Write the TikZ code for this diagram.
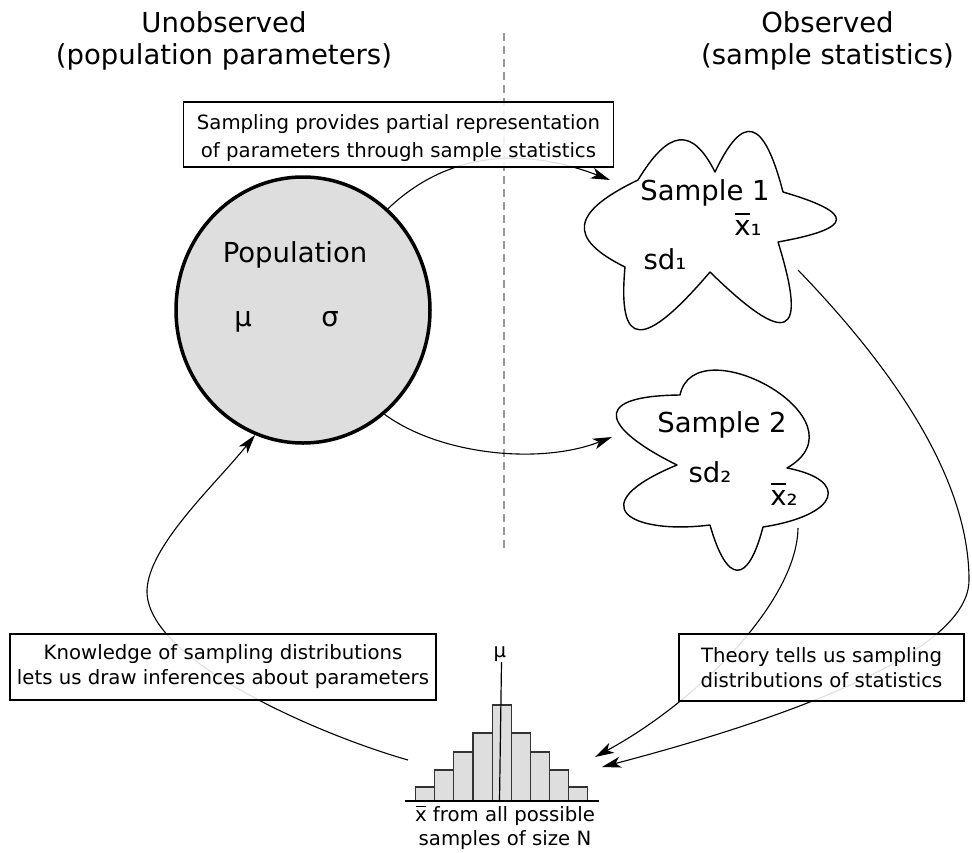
\documentclass[tikz,border=0pt]{standalone}
\usepackage{fontspec}
\setmainfont{DejaVu Sans}
\usetikzlibrary{calc,arrows.meta,shapes.geometric}
\newcommand\xbar{\leavevmode\ooalign{x\cr\hidewidth\rule[0.74em]{0.52em}{0.065em}\hidewidth\cr}}
\begin{document}
\begin{tikzpicture}[x=1pt,y=-1pt,
  big/.style={font=\fontsize{27.5}{32}\selectfont},
  small/.style={font=\fontsize{19.7}{25}\selectfont},
  textbox/.style={draw=black, line width=1.3pt, fill=white, fill opacity=0.88, text opacity=1,
    align=center, small, inner sep=0pt},
  conn/.style={line width=1.1pt, -{Stealth[length=19pt,width=11pt,inset=5pt]}},
  samplecloud/.style={draw=black, line width=1.4pt, line join=round},
  histbar/.style={draw=black!80, line width=1.2pt, fill=black!13},
  lobe/.style n args={3}{insert path={.. controls ($1.333*(#2)-0.017*(#1)-0.317*(#3)$) and ($1.333*(#2)-0.317*(#1)-0.017*(#3)$) .. (#3)}},
]
\useasboundingbox (0,0) rectangle (972,852);
\fill[white] (0,0) rectangle (972,852);

% titles
\node[big, align=center] (ttl1) at (224,41.4) {Unobserved\\(population parameters)};
\node[big, align=center] (ttl2) at (827.5,41.4) {Observed\\(sample statistics)};

% divider
\draw[black!40, line width=1.2pt, dash pattern=on 8pt off 5pt] (504,33) -- (504,550);

% population
\node[ellipse, draw=black, line width=3.5pt, fill=black!13, minimum width=254pt, minimum height=266pt, inner sep=0pt] (pop) at (303,310) {};
\node[big, anchor=base] (poplabel) at (295,262) {Population};
\node[big, anchor=base] (mu) at (243,326) {μ};
\node[big, anchor=base] (sigma) at (330,326) {σ};

% sample 1 cloud
\coordinate (s1a) at (638,180); \coordinate (s1p1) at (680,140);
\coordinate (s1b) at (715,172); \coordinate (s1p2) at (753,132);
\coordinate (s1c) at (783,192); \coordinate (s1p3) at (837,220);
\coordinate (s1d) at (778,242); \coordinate (s1p4) at (785,322);
\coordinate (s1e) at (710,272); \coordinate (s1p5) at (640,330);
\coordinate (s1f) at (625,267); \coordinate (s1p6) at (585,225);
\draw[samplecloud] (s1a) [lobe={s1a}{s1p1}{s1b}] [lobe={s1b}{s1p2}{s1c}] [lobe={s1c}{s1p3}{s1d}]
  [lobe={s1d}{s1p4}{s1e}] [lobe={s1e}{s1p5}{s1f}] [lobe={s1f}{s1p6}{s1a}] -- cycle;
\node[big, anchor=base] (s1label) at (705,200) {Sample 1};
\node[big, anchor=base] (s1mean) at (748,235) {\xbar₁};
\node[big, anchor=base] (s1sd) at (665,269) {sd₁};

% sample 2 cloud
\coordinate (s2a) at (680,395); \coordinate (s2b) at (787,468);
\coordinate (s2c) at (763,527); \coordinate (s2d) at (710,525);
\coordinate (s2e) at (677,465);
\draw[samplecloud] (s2a) .. controls (695,325) and (870,420) .. (s2b)
  .. controls (850,480) and (840,515) .. (s2c)
  .. controls (748,585) and (727,585) .. (s2d)
  .. controls (630,535) and (580,505) .. (s2e)
  .. controls (610,432) and (582,396) .. (s2a) -- cycle;
\node[big, anchor=base] (s2label) at (722,432) {Sample 2};
\node[big, anchor=base] (s2sd) at (710,482) {sd₂};
\node[big, anchor=base] (s2mean) at (784,505) {\xbar₂};

% histogram
\foreach \i/\h in {0/787,1/770,2/752,3/733,4/705,5/733,6/752,7/770,8/787}
  \draw[histbar] ({415.5+19.15*\i},801) rectangle ({415.5+19.15*(\i+1)},\h);
\draw[line width=1.5pt] (405,801) -- (599,801);
\draw[line width=1.2pt] (501.5,662) -- (499.5,801);
\node[small, anchor=base] (histmu) at (500,657) {μ};
\node[small, align=center, font=\fontsize{19.7}{24}\selectfont] (histlabel) at (505,828.5) {\xbar{} from all possible\\samples of size N};

% connector end points
\coordinate (s1in) at (610,180);
\coordinate (s2in) at (612,437);
\coordinate (s1out) at (798,270);
\coordinate (s1mid) at (969,580);
\coordinate (s2out) at (798,528);
\coordinate (hin1) at (602,767);
\coordinate (hin2) at (595,757);
\coordinate (hout) at (408,760);
\coordinate (kmid) at (147,590);

% connectors
\draw[conn] (pop.50) .. controls (460,140) and (545,155) .. (s1in);
\draw[conn] (pop.-52) .. controls (440,455) and (540,465) .. (s2in);
\draw[conn] (s1out) .. controls (880,355) and (969,470) .. (s1mid) .. controls (969,650) and (800,715) .. (hin1);
\draw[conn] (s2out) .. controls (797,600) and (700,700) .. (hin2);
\draw[conn] (hout) .. controls (320,735) and (145,660) .. (kmid) .. controls (149,545) and (215,485) .. (pop.-111);

% text boxes
\node[textbox, minimum width=430pt, minimum height=65pt] (topbox) at (398.5,134.5) {};
\node[small, align=center, font=\fontsize{19.7}{28}\selectfont] (toptext) at (398.5,138)
  {Sampling provides partial representation\\of parameters through sample statistics};
\node[textbox, minimum width=426pt, minimum height=66pt] (leftbox) at (223,667)
  {Knowledge of sampling distributions\\lets us draw inferences about parameters};
\node[textbox, minimum width=285pt, minimum height=67pt] (rightbox) at (821.5,667.5)
  {Theory tells us sampling\\distributions of statistics};
\end{tikzpicture}
\end{document}
